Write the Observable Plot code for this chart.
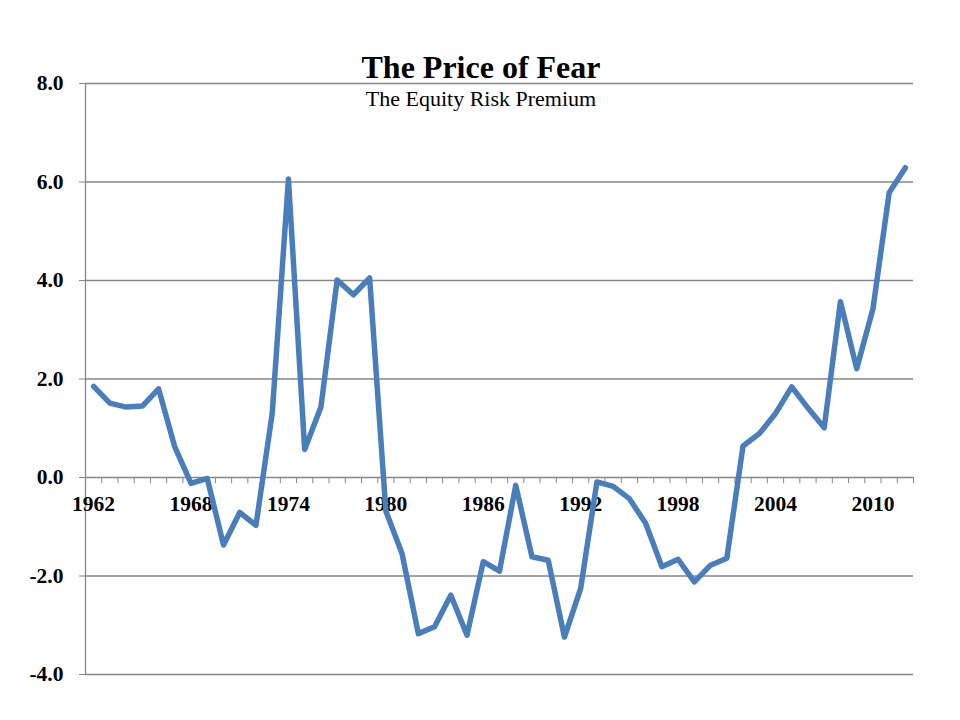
<!DOCTYPE html>
<html><head><meta charset="utf-8">
<script src="https://cdn.jsdelivr.net/npm/d3@7"></script>
<script src="https://cdn.jsdelivr.net/npm/@observablehq/plot@0.6"></script>
<style>
body{margin:0;background:#fff;}
#wrap{position:relative;width:960px;height:720px;}
#title{position:absolute;left:0;width:962px;text-align:center;top:51px;font:bold 32px/32px "Liberation Serif",serif;color:#000;}
#subtitle{position:absolute;left:0;width:962px;text-align:center;top:88px;font:22px/22px "Liberation Serif",serif;color:#000;}
</style>
</head><body>
<div id="wrap"><div id="chart"></div><div id="title">The Price of Fear</div><div id="subtitle">The Equity Risk Premium</div></div>
<script>
const years = [1962,1963,1964,1965,1966,1967,1968,1969,1970,1971,1972,1973,1974,1975,1976,1977,1978,1979,1980,1981,1982,1983,1984,1985,1986,1987,1988,1989,1990,1991,1992,1993,1994,1995,1996,1997,1998,1999,2000,2001,2002,2003,2004,2005,2006,2007,2008,2009,2010,2011,2012];
const premium = [1.85,1.51,1.43,1.45,1.80,0.62,-0.12,-0.02,-1.37,-0.71,-0.97,1.30,6.06,0.57,1.43,4.01,3.71,4.05,-0.68,-1.55,-3.17,-3.03,-2.39,-3.20,-1.71,-1.90,-0.16,-1.61,-1.68,-3.24,-2.25,-0.09,-0.18,-0.43,-0.93,-1.81,-1.66,-2.12,-1.78,-1.64,0.64,0.89,1.30,1.84,1.41,1.01,3.57,2.21,3.42,5.78,6.29];
const xTickLabels = [1962,1968,1974,1980,1986,1992,1998,2004,2010];
const yTicks = [-4,-2,0,2,4,6,8];
const gridY = [-4,-2,2,4,6,8];

const data = years.map((y,i)=>({year:y, value:premium[i]}));
const boundaries = years.map(y=>y-0.5).concat([years[years.length-1]+0.5]);
const xMin = years[0]-0.5, xMax = years[years.length-1]+0.5;
const gray = "#868686";

const chart = Plot.plot({
  width: 960,
  height: 720,
  marginLeft: 85,
  marginRight: 47,
  marginTop: 83,
  marginBottom: 46,
  style: {fontFamily: "'Liberation Serif', serif", fontSize: "21px", color: "#000", background: "#fff"},
  x: {domain: [xMin, xMax], axis: null},
  y: {domain: [-4, 8], axis: null},
  marks: [
    Plot.ruleY(gridY, {x1: xMin, x2: xMax, stroke: gray, strokeWidth: 1.3, strokeOpacity: 1}),
    Plot.ruleY([0], {x1: xMin, x2: xMax, stroke: gray, strokeWidth: 1.3, strokeOpacity: 1}),
    Plot.ruleX([xMin], {y1: -4, y2: 8, stroke: gray, strokeWidth: 1.3, strokeOpacity: 1}),
    Plot.ruleX(boundaries, {y1: 0, y2: -0.125, stroke: gray, strokeWidth: 1, strokeOpacity: 1}),
    Plot.axisY({ticks: yTicks, tickFormat: d => d.toFixed(1), tickSize: 6, tickPadding: 16, stroke: gray, strokeOpacity: 1, fontWeight: "bold", fontSize: 21.5, label: null}),
    Plot.text(xTickLabels, {x: d => d, y: 0, dy: 27, text: d => String(d), fontWeight: "bold", fontSize: 21.5, lineAnchor: "middle", fill: "#000"}),
    Plot.line(data, {x: "year", y: "value", stroke: "#4a7ebb", strokeWidth: 5.5, strokeLinejoin: "round", strokeLinecap: "round"})
  ]
});
document.getElementById("chart").appendChild(chart);
</script>
</body></html>
